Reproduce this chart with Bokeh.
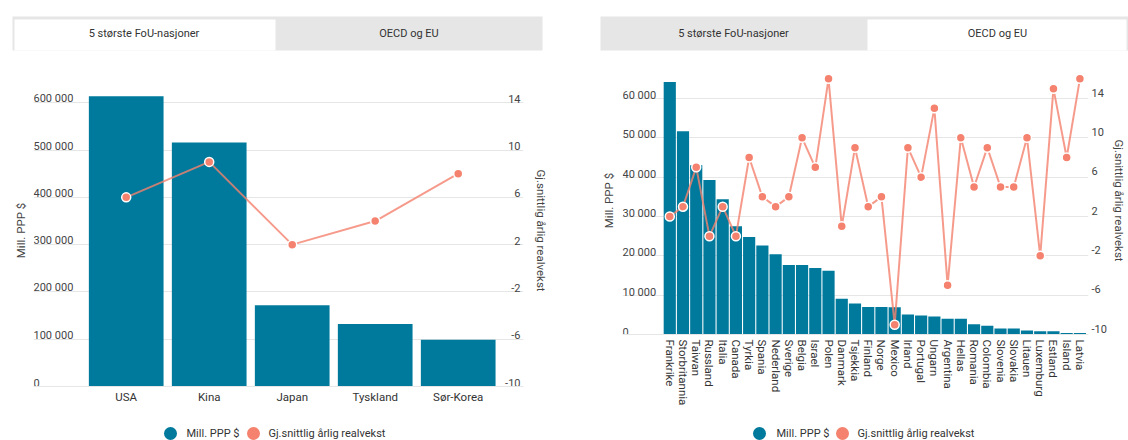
from bokeh.plotting import figure
from bokeh.models import Range1d, LinearAxis, FixedTicker
from bokeh.layouts import row, column
from bokeh.embed import file_html
from bokeh.resources import INLINE
from bokeh.core.properties import value

# ---------------- data ----------------
top5_countries = ["USA", "Kina", "Japan", "Tyskland", "Sør-Korea"]
top5_ppp = [614000, 516000, 172000, 132000, 99000]
top5_growth = [6, 9, 2, 4, 8]

oecd_countries = ["Frankrike", "Storbritannia", "Taiwan", "Russland", "Italia", "Canada",
                  "Tyrkia", "Spania", "Nederland", "Sverige", "Belgia", "Israel", "Polen",
                  "Danmark", "Tsjekkia", "Finland", "Norge", "Mexico", "Irland", "Portugal",
                  "Ungarn", "Argentina", "Hellas", "Romania", "Colombia", "Slovenia",
                  "Slovakia", "Litauen", "Luxemburg", "Estland", "Island", "Latvia"]
oecd_ppp = [64200, 51700, 43000, 39300, 34400, 27500, 24800, 22600, 20400, 17700,
            17700, 16900, 16200, 9100, 7900, 7000, 7000, 6900, 5100, 4800,
            4600, 4000, 4000, 2600, 2200, 1500, 1500, 1000, 850, 850, 350, 350]
oecd_growth = [2, 3, 7, 0, 3, 0, 8, 4, 3, 4, 10, 7, 16, 1, 9, 3, 4, -9, 9, 6,
               13, -5, 10, 5, 9, 5, 5, 10, -2, 15, 8, 16]

top5_ticks = [0, 100000, 200000, 300000, 400000, 500000, 600000]
top5_tick_labels = ["0", "100 000", "200 000", "300 000", "400 000", "500 000", "600 000"]
oecd_ticks = [0, 10000, 20000, 30000, 40000, 50000, 60000]
oecd_tick_labels = ["0", "10 000", "20 000", "30 000", "40 000", "50 000", "60 000"]
growth_ticks = [-10, -6, -2, 2, 6, 10, 14]
growth_tick_labels = ["-10", "-6", "-2", "2", "6", "10", "14"]

tab_labels = ["5 største FoU-nasjoner", "OECD og EU"]
series_names = ["Mill. PPP $", "Gj.snittlig årlig realvekst"]

# ---------------- style ----------------
TEAL = "#007a9c"
SALMON = "#f4826e"
GRID = "#e6e6e6"
TAB_GRAY = "#e6e6e6"
TXT = "#444444"
FONT = value("Roboto")

W = 1128
H_TABS, H_MAIN, H_LEG = 56, 360, 24
TOP = H_TABS  # page y where the main charts start


def style_title_axis(ax, label, standoff):
    ax.ticker = FixedTicker(ticks=[])
    ax.axis_label = label
    ax.axis_label_standoff = standoff
    ax.axis_label_text_font = "Roboto"
    ax.axis_label_text_font_style = "normal"
    ax.axis_label_text_font_size = "11.5px"
    ax.axis_label_text_color = TXT
    ax.axis_line_color = None
    ax.major_tick_line_color = None
    ax.minor_tick_line_color = None
    ax.major_tick_out = 0
    ax.major_tick_in = 0
    ax.minor_tick_out = 0
    ax.major_label_standoff = 0


def style_x_axis(ax, ticks, names, standoff, vertical=False):
    ax.ticker = FixedTicker(ticks=ticks)
    ax.major_label_overrides = {i: c for i, c in zip(ticks, names)}
    if vertical:
        ax.major_label_orientation = "vertical"
    ax.major_tick_line_color = None
    ax.minor_tick_line_color = None
    ax.major_tick_out = 0
    ax.major_tick_in = 0
    ax.minor_tick_out = 0
    ax.major_label_standoff = standoff
    ax.axis_line_color = GRID
    ax.major_label_text_font = "Roboto"
    ax.major_label_text_font_size = "11.5px"
    ax.major_label_text_color = "#333333"


def plain_fig(width, height):
    f = figure(width=width, height=height, x_range=Range1d(0, width), y_range=Range1d(height, 0),
               x_axis_location=None, y_axis_location=None, toolbar_location=None,
               output_backend="svg", min_border=0, outline_line_color=None)
    f.grid.visible = False
    return f


# ---------------- tab strip (both panels) ----------------
tabs = plain_fig(W, H_TABS)
tabs.quad(left=[12, 600], right=[542, 1128], top=[16, 16], bottom=[50, 50],
          fill_color=TAB_GRAY, line_color=None)
tabs.quad(left=[14, 867], right=[275, 1126], top=[19, 19], bottom=[50, 50],
          fill_color="white", line_color=None)
tabs.text(x=[143.5, 408.5, 733, 997], y=[33, 33, 33, 33], text=tab_labels + tab_labels,
          text_align="center", text_baseline="middle", text_font=FONT,
          text_font_size="11px", text_color="#333333")

# ---------------- legend strip (both panels) ----------------
leg = plain_fig(W, H_LEG)
leg.scatter(x=[170, 253, 759, 842], y=[17, 17, 17, 17], size=13,
            fill_color=[TEAL, SALMON, TEAL, SALMON], line_color=None)
leg.text(x=[186, 268, 776, 857], y=[17, 17, 17, 17], text=series_names + series_names,
         text_align="left", text_baseline="middle", text_font=FONT,
         text_font_size="11px", text_color="#333333")

# ---------------- left chart: top 5 ----------------
W1 = 570
F1_L, F1_R, F1_T, F1_B = 33, 523, 74 - TOP, 386 - TOP
x1 = list(range(len(top5_countries)))
X1_START, X1_PPU = -1.117, 83.0
X1_END = X1_START + (F1_R - F1_L) / X1_PPU
Y1_END = 600000 * (F1_B - F1_T) / (F1_B - (102.3 - TOP))
G1_END = -10 + 24 * (F1_B - F1_T) / (F1_B - (102.3 - TOP))

p1 = figure(width=W1, height=H_MAIN, x_range=Range1d(X1_START, X1_END), y_range=Range1d(0, Y1_END),
            toolbar_location=None, output_backend="svg",
            min_border_left=F1_L, min_border_right=W1 - F1_R, min_border_top=F1_T,
            min_border_bottom=H_MAIN - F1_B, outline_line_color=None)
p1.extra_y_ranges = {"g": Range1d(-10, G1_END)}
p1.xgrid.visible = False
p1.ygrid[0].ticker = FixedTicker(ticks=top5_ticks)
p1.ygrid.grid_line_color = GRID

p1.vbar(x=x1, top=top5_ppp, width=0.9, fill_color=TEAL, line_color=None)
p1.line(x=x1, y=top5_growth, y_range_name="g", line_color=SALMON, line_width=2, line_alpha=0.8)
p1.scatter(x=x1, y=top5_growth, y_range_name="g", size=9, fill_color=SALMON,
           line_color="white", line_width=1.5)

p1.text(x=[X1_START] * len(top5_ticks), y=top5_ticks, text=top5_tick_labels,
        text_align="left", text_baseline="alphabetic", y_offset=-4,
        text_font=FONT, text_font_size="11px", text_color=TXT)
p1.text(x=[X1_END] * len(growth_ticks), y=growth_ticks, text=growth_tick_labels,
        y_range_name="g", text_align="right", text_baseline="alphabetic", x_offset=-3, y_offset=-4,
        text_font=FONT, text_font_size="11px", text_color=TXT)

style_x_axis(p1.xaxis[0], x1, top5_countries, 3)
style_title_axis(p1.yaxis[0], series_names[0], 6)
ra1 = LinearAxis(y_range_name="g")
style_title_axis(ra1, series_names[1], 10)
p1.add_layout(ra1, "right")

# ---------------- right chart: OECD og EU ----------------
W2 = W - W1
X_OFF2 = W1
F2_L, F2_R, F2_T, F2_B = 622 - X_OFF2, 1092 - X_OFF2, 66 - TOP, 334 - TOP
x2 = list(range(len(oecd_countries)))
X2_PPU = (1090 - 663) / 32.0
X2_START = -0.5 - (663 - 622) / X2_PPU
X2_END = X2_START + (F2_R - F2_L) / X2_PPU
D2 = F2_B - (98 - TOP)
Y2_END = 60000 * (F2_B - F2_T) / D2
G2_END = -10 + 24 * (F2_B - F2_T) / D2
SHIFT = 6 * 24 / D2

p2 = figure(width=W2, height=H_MAIN, x_range=Range1d(X2_START, X2_END), y_range=Range1d(0, Y2_END),
            toolbar_location=None, output_backend="svg",
            min_border_left=F2_L, min_border_right=W2 - F2_R, min_border_top=F2_T,
            min_border_bottom=H_MAIN - F2_B, outline_line_color=None)
p2.extra_y_ranges = {"g": Range1d(-10, G2_END), "glab": Range1d(-10 - SHIFT, G2_END - SHIFT)}
p2.xgrid.visible = False
p2.ygrid[0].ticker = FixedTicker(ticks=oecd_ticks)
p2.ygrid.grid_line_color = GRID

p2.vbar(x=x2, top=oecd_ppp, width=0.92, fill_color=TEAL, line_color=None)
p2.line(x=x2, y=oecd_growth, y_range_name="g", line_color=SALMON, line_width=2, line_alpha=0.8)
p2.scatter(x=x2, y=oecd_growth, y_range_name="g", size=9, fill_color=SALMON,
           line_color="white", line_width=1.5)

p2.text(x=[X2_START] * len(oecd_ticks), y=oecd_ticks, text=oecd_tick_labels,
        text_align="left", text_baseline="alphabetic", y_offset=-3,
        text_font=FONT, text_font_size="11px", text_color=TXT)

style_x_axis(p2.xaxis[0], x2, oecd_countries, 5, vertical=True)
style_title_axis(p2.yaxis[0], series_names[0], 7)

ra2 = LinearAxis(y_range_name="glab", ticker=FixedTicker(ticks=growth_ticks))
ra2.major_label_overrides = {v: s for v, s in zip(growth_ticks, growth_tick_labels)}
ra2.axis_label = series_names[1]
ra2.axis_label_standoff = 2
ra2.axis_label_text_font = "Roboto"
ra2.axis_label_text_font_style = "normal"
ra2.axis_label_text_font_size = "11.5px"
ra2.axis_label_text_color = TXT
ra2.axis_line_color = None
ra2.major_tick_line_color = None
ra2.minor_tick_line_color = None
ra2.major_tick_out = 0
ra2.major_tick_in = 0
ra2.minor_tick_out = 0
ra2.major_label_standoff = 3
ra2.major_label_text_font = "Roboto"
ra2.major_label_text_font_size = "11px"
ra2.major_label_text_color = TXT
p2.add_layout(ra2, "right")

layout = column(column(tabs), row(column(p1), column(p2)), column(leg))

open("out.html", "w").write(file_html(layout, INLINE))
